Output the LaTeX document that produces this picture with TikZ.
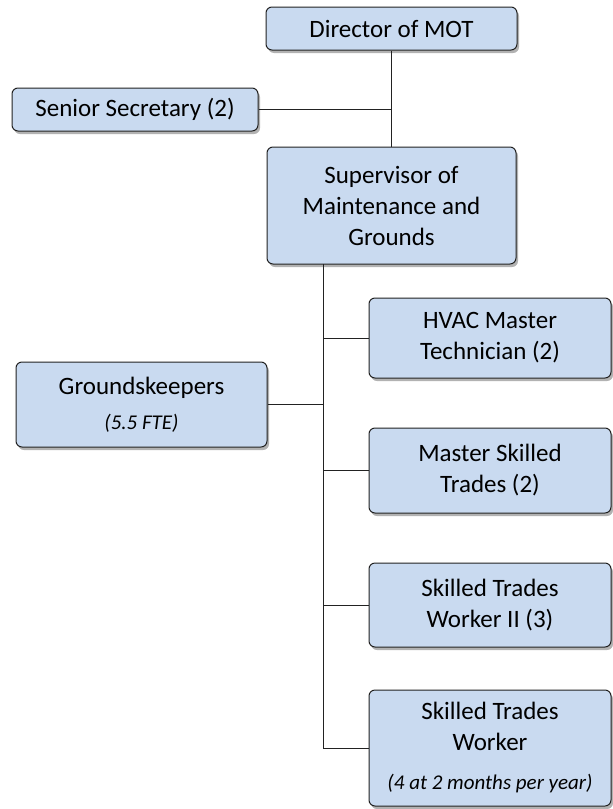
\documentclass[tikz,border=0pt]{standalone}
\usepackage{fontspec}
\setmainfont{Carlito}
\usetikzlibrary{shadows}
\definecolor{boxblue}{RGB}{201,218,240}
\definecolor{boxline}{RGB}{34,34,34}
\tikzset{
  post/.style={draw=boxline, line width=1pt, fill=boxblue, rounded corners=6pt,
    align=center, inner sep=0pt, font=\fontsize{25}{31}\selectfont,
    drop shadow={shadow xshift=2pt, shadow yshift=-3pt, opacity=0.3, fill=black}},
  link/.style={draw=boxline, line width=1pt},
}
\newcommand{\note}[1]{{\fontsize{21}{24}\selectfont\itshape #1}}
\begin{document}
\begin{tikzpicture}[x=1pt, y=-1pt]
\useasboundingbox (0,0) rectangle (613,809);
\node[post, minimum width=251, minimum height=43] (dir) at (391.5,28.5) {Director of MOT};
\node[post, minimum width=246, minimum height=43] (sec) at (135,109.5) {Senior Secretary (2)};
\node[post, minimum width=249, minimum height=117] (sup) at (391.5,205.5) {Supervisor of\\Maintenance and\\Grounds};
\node[post, minimum width=251, minimum height=85] (grd) at (141.5,404.5) {Groundskeepers\\[4pt]\note{(5.5 FTE)}};
\node[post, minimum width=242, minimum height=80] (hvac) at (490,338) {HVAC Master\\Technician (2)};
\node[post, minimum width=242, minimum height=85] (mst) at (490,470.5) {Master Skilled\\Trades (2)};
\node[post, minimum width=242, minimum height=84] (stw2) at (490,605) {Skilled Trades\\Worker II (3)};
\node[post, minimum width=242, minimum height=116] (stw) at (490,748) {Skilled Trades\\Worker\\[8pt]\note{(4 at 2 months per year)}};
\coordinate (tk0) at (323,264);
\coordinate (tk1) at (stw.west -| tk0);
\draw[link] (dir) -- (sup);
\draw[link] (sec.east) -- (sec.east -| dir.south);
\draw[link] (tk0) -- (tk1);
\draw[link] (grd.east) -- (grd.east -| tk0);
\draw[link] (hvac.west) -- (hvac.west -| tk0);
\draw[link] (mst.west) -- (mst.west -| tk0);
\draw[link] (stw2.west) -- (stw2.west -| tk0);
\draw[link] (stw.west) -- (tk1);
\end{tikzpicture}
\end{document}
